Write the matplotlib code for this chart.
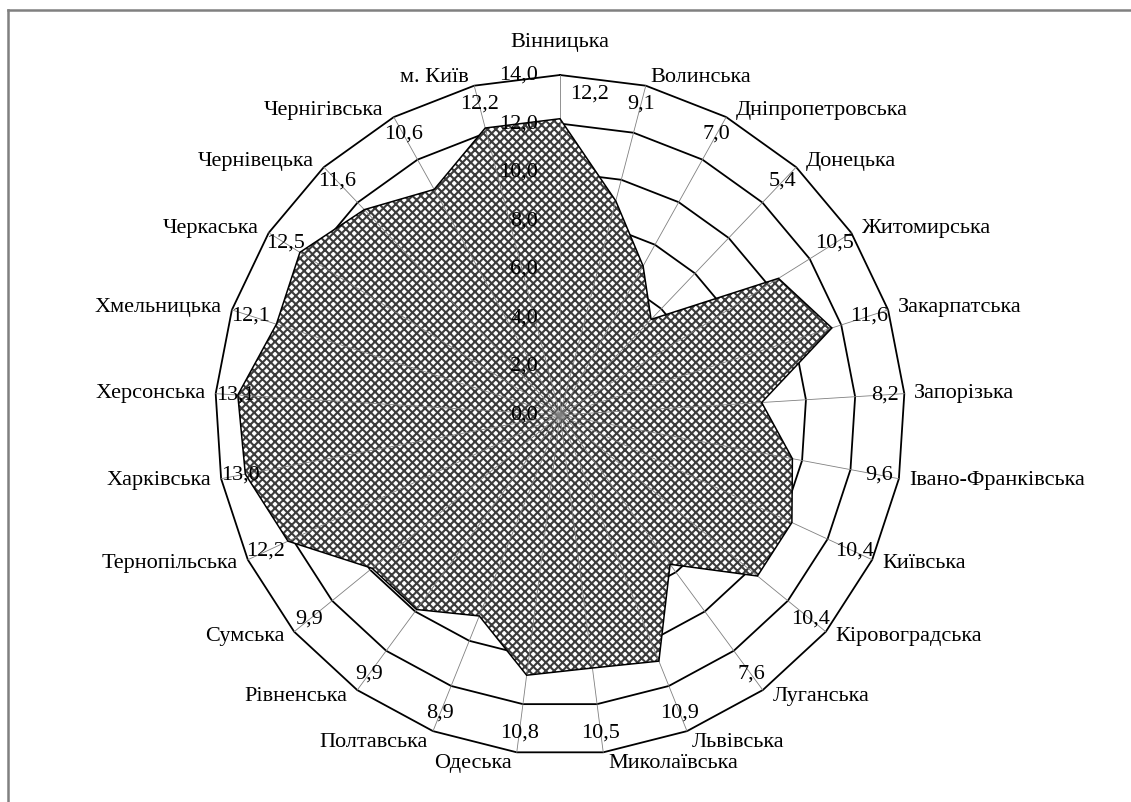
import numpy as np
import matplotlib
matplotlib.use('Agg')
import matplotlib.pyplot as plt
from matplotlib.patches import Polygon
from matplotlib.lines import Line2D

regions = ['Вінницька', 'Волинська', 'Дніпропетровська', 'Донецька', 'Житомирська',
           'Закарпатська', 'Запорізька', 'Івано-Франківська', 'Київська', 'Кіровоградська',
           'Луганська', 'Львівська', 'Миколаївська', 'Одеська', 'Полтавська',
           'Рівненська', 'Сумська', 'Тернопільська', 'Харківська', 'Херсонська',
           'Хмельницька', 'Черкаська', 'Чернівецька', 'Чернігівська', 'м. Київ']
values = [12.2, 9.1, 7.0, 5.4, 10.5,
          11.6, 8.2, 9.6, 10.4, 10.4,
          7.6, 10.9, 10.5, 10.8, 8.9,
          9.9, 9.9, 12.2, 13.0, 13.1,
          12.1, 12.5, 11.6, 10.6, 12.2]
ring_values = [0, 2, 4, 6, 8, 10, 12, 14]

plt.rcParams['font.family'] = ['Liberation Serif', 'DejaVu Serif']
FS = 16

W, H = 1131, 802
fig = plt.figure(figsize=(W / 100, H / 100), dpi=100)
ax = fig.add_axes([0, 0, 1, 1])
cx, cy = 560, 415
ux, uy = 345 / 14, 340 / 14
ax.set_xlim(-cx / ux, (W - cx) / ux)
ax.set_ylim(-(H - cy) / uy, cy / uy)
ax.axis('off')

n = len(regions)
theta = np.arange(n) * 2 * np.pi / n
sx, sy = np.sin(theta), np.cos(theta)
rmax = ring_values[-1]

# rings
for r in ring_values[1:]:
    ax.plot(np.append(sx, sx[0]) * r, np.append(sy, sy[0]) * r,
            color='black', lw=1.3, zorder=1, solid_joinstyle='miter')

# filled series
v = np.array(values)
pts = np.column_stack([v * sx, v * sy])
plt.rcParams['hatch.linewidth'] = 1.5
ax.add_patch(Polygon(pts, closed=True, facecolor='white', edgecolor='#3c3c3c',
                     lw=0, hatch='xxxx', zorder=2))
ax.add_patch(Polygon(pts, closed=True, fill=False, edgecolor='black', lw=1.1, zorder=4))

# spokes
for i in range(n):
    ax.plot([0, sx[i] * rmax], [0, sy[i] * rmax], color='#808080', lw=0.6, zorder=3)

# ring labels
for r in ring_values:
    ax.annotate(f"{r:.1f}".replace('.', ','), xy=(0, r), xytext=(-22, 0),
                textcoords='offset pixels', ha='right', va='center',
                fontsize=FS, zorder=5)

# value labels
for i in range(n):
    rr = 13.2
    off = (30, 0) if i == 0 else (0, 0)
    ax.annotate(f"{values[i]:.1f}".replace('.', ','), xy=(sx[i] * rr, sy[i] * rr),
                xytext=off, textcoords='offset pixels', ha='center', va='center',
                fontsize=FS, zorder=5)

# category labels
for i in range(n):
    px, py = sx[i] * rmax, sy[i] * rmax
    if abs(sx[i]) < 0.05:
        ha, off = 'center', (0, 33 if sy[i] > 0 else -22)
    else:
        ha = 'left' if sx[i] > 0 else 'right'
        off = (10 * np.sign(sx[i]) if abs(sy[i]) < 0.9 else 5 * np.sign(sx[i]),
               8 * sy[i] if sy[i] > -0.9 else -11)
    ax.annotate(regions[i], xy=(px, py), xytext=off, textcoords='offset pixels',
                ha=ha, va='center', fontsize=FS, zorder=5)

# chart border (top and left visible)
fig.add_artist(Line2D([8 / W, 1], [1 - 10 / H, 1 - 10 / H], transform=fig.transFigure,
                      color='#808080', lw=1.8))
fig.add_artist(Line2D([8 / W, 8 / W], [0, 1 - 10 / H], transform=fig.transFigure,
                      color='#808080', lw=1.8))

fig.savefig('out.png', dpi=100)
